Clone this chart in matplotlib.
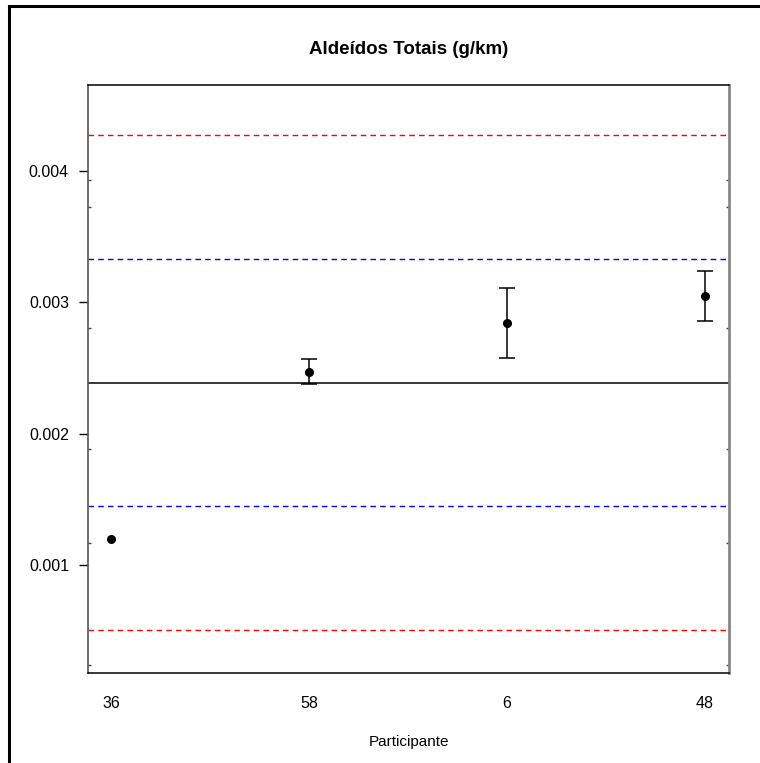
import matplotlib
matplotlib.use("Agg")
import matplotlib.pyplot as plt
from matplotlib.patches import Rectangle
import numpy as np

plt.rcParams['font.family'] = ['Liberation Sans', 'DejaVu Sans']

# dados
participantes = ['36', '58', '6', '48']
media = [0.00120, 0.002471, 0.002844, 0.003049]
sup = [np.nan, 0.002570, 0.003110, 0.003240]
inf = [np.nan, 0.002380, 0.002578, 0.002859]
valor_ref = 0.002390
lim_azul = [0.001451, 0.003331]
lim_verm = [0.000508, 0.004274]
y_ticks = [0.001, 0.002, 0.003, 0.004]
ticks_internos = [0.000242, 0.001170, 0.001886, 0.002806, 0.003726, 0.003932]

fig = plt.figure(figsize=(7.6, 7.63), dpi=100)
ax = fig.add_axes([0.1154, 0.1183, 0.8442, 0.7707])

x = np.arange(1, len(participantes) + 1)
media = np.array(media)
err = [media - np.array(inf), np.array(sup) - media]

ax.axhline(valor_ref, color='black', lw=1.1)
for v in lim_azul:
    ax.axhline(v, color='blue', ls=(0, (4, 3)), lw=1)
for v in lim_verm:
    ax.axhline(v, color='red', ls=(0, (4, 3)), lw=1)

ax.errorbar(x, media, yerr=err, fmt='o', color='black', ms=5.5,
            capsize=5.8, elinewidth=1.1, capthick=1.1)

ax.set_xlim(0.882, 4.123)
ax.set_ylim(0.000185, 0.004654)
ax.set_xticks(x)
ax.set_xticklabels(participantes)
ax.tick_params(axis='x', length=0, pad=17, labelsize=11.5)
ax.set_yticks(y_ticks)
ax.set_yticklabels(['%.3f' % v for v in y_ticks])
ax.tick_params(axis='y', length=6.5, width=1, pad=7, labelsize=11.5)
ax.set_yticks(ticks_internos, minor=True)
ax.tick_params(axis='y', which='minor', direction='in', length=2,
               left=True, right=True, width=1, color='#444444')

for s in ['top', 'bottom']:
    ax.spines[s].set_linewidth(1.1)
    ax.spines[s].set_color('black')
ax.spines['left'].set_color('#555555')
ax.spines['left'].set_linewidth(1.2)
ax.spines['right'].set_color('#888888')
ax.spines['right'].set_linewidth(2)

ax.set_title('Aldeídos Totais (g/km)', fontsize=13.5, fontweight='bold', pad=22)
ax.set_xlabel('Participante', fontsize=11, labelpad=17)

# moldura externa
fig.patches.append(Rectangle((9 / 760, -0.5), 2, 0.5 + (763 - 6) / 763,
                             transform=fig.transFigure, fill=False,
                             edgecolor='black', lw=2.2))

fig.savefig('out.png', dpi=100)
